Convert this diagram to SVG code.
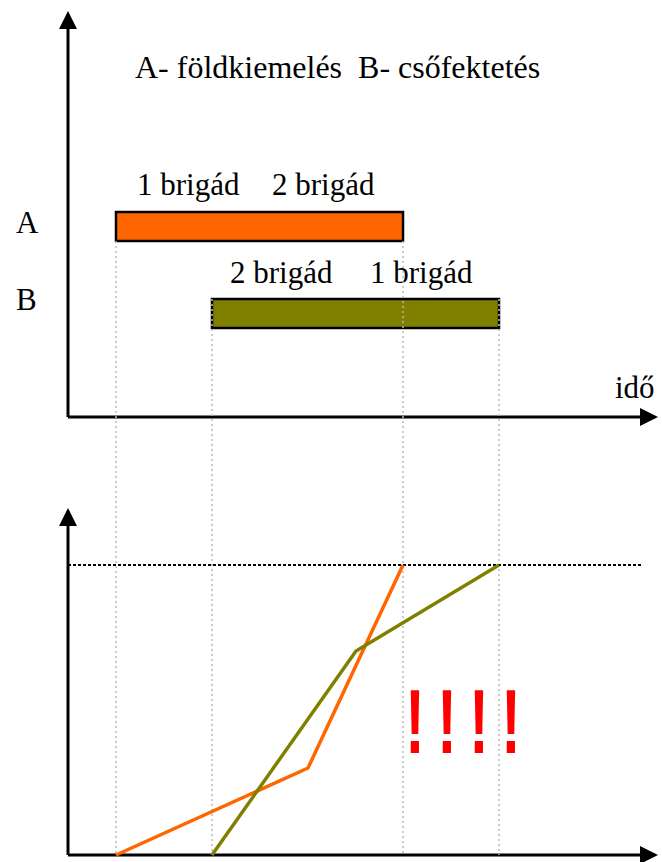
<svg xmlns="http://www.w3.org/2000/svg" width="662" height="862" viewBox="0 0 662 862">
<style>
.t{font-family:"Liberation Serif","Times New Roman",serif;font-size:31px;fill:#000}
.ax{stroke:#000;stroke-width:3;fill:none}
.guide{stroke:#bbb;stroke-width:1.5;stroke-dasharray:2,3;fill:none}
.ex{font-family:"Liberation Sans",Arial,sans-serif;font-weight:bold;font-size:90px;fill:#ff0000;text-anchor:middle}
</style>
<defs>
<marker id="ah" markerWidth="6" markerHeight="6" refX="5" refY="3" orient="auto" markerUnits="strokeWidth" viewBox="0 0 6 6">
<path d="M0,0 L6,3 L0,6 Z" fill="#000"/>
</marker>
</defs>
<rect width="662" height="862" fill="#fff"/>
<g id="axes">
<line class="ax" x1="68" y1="417" x2="68" y2="14" marker-end="url(#ah)"/>
<line class="ax" x1="68" y1="417" x2="655" y2="417" marker-end="url(#ah)"/>
<line class="ax" x1="68" y1="855" x2="68" y2="511" marker-end="url(#ah)"/>
<line class="ax" x1="68" y1="855" x2="655" y2="855" marker-end="url(#ah)"/>
</g>
<g id="texts">
<text class="t" x="135" y="78" style="font-size:32px" xml:space="preserve">A- földkiemelés  B- csőfektetés</text>
<text class="t" x="16" y="233">A</text>
<text class="t" x="16" y="310">B</text>
<text class="t" x="137" y="195">1 brigád</text>
<text class="t" x="272" y="195">2 brigád</text>
<text class="t" x="230" y="283">2 brigád</text>
<text class="t" x="370" y="283">1 brigád</text>
<text class="t" x="615" y="398">idő</text>
</g>
<g id="barA">
<rect x="116" y="212" width="287" height="29" fill="#ff6600" stroke="#000" stroke-width="2.5"/>
</g>
<g id="barB">
<rect x="212" y="299" width="287" height="29" fill="#808000" stroke="#000" stroke-width="2.5"/>
</g>
<g id="guides">
<line class="guide" x1="116" y1="241" x2="116" y2="855"/>
<line class="guide" x1="212" y1="299" x2="212" y2="855"/>
<line class="guide" x1="403" y1="241" x2="403" y2="855"/>
<line class="guide" x1="499" y1="299" x2="499" y2="855"/>
<line x1="68" y1="565" x2="641" y2="565" stroke="#000" stroke-width="2" stroke-dasharray="3,2"/>
</g>
<g id="curves">
<polyline points="116,855 308,768 403,565" fill="none" stroke="#ff6600" stroke-width="3.5"/>
<polyline points="212,855 356,651 499,565" fill="none" stroke="#808000" stroke-width="3.5"/>
</g>
<g id="exclaim">
<text class="ex" transform="translate(415,753) scale(0.65,1)">!</text>
<text class="ex" transform="translate(447,753) scale(0.65,1)">!</text>
<text class="ex" transform="translate(479,753) scale(0.65,1)">!</text>
<text class="ex" transform="translate(511,753) scale(0.65,1)">!</text>
</g>
</svg>
